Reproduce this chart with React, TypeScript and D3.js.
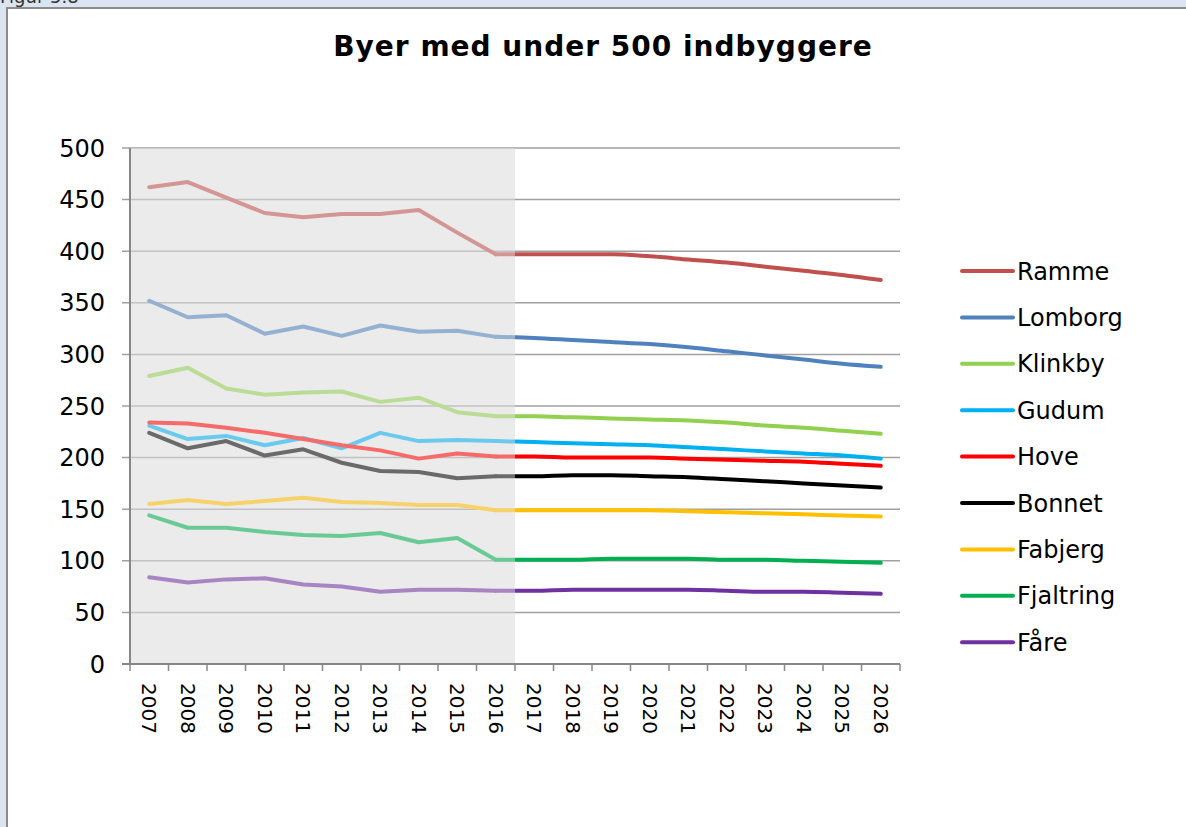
import React, { useRef, useEffect } from 'react';
import * as d3 from 'd3';

const years = [
  '2007', '2008', '2009', '2010', '2011', '2012', '2013', '2014', '2015', '2016',
  '2017', '2018', '2019', '2020', '2021', '2022', '2023', '2024', '2025', '2026',
];
const towns = ['Ramme', 'Lomborg', 'Klinkby', 'Gudum', 'Hove', 'Bonnet', 'Fabjerg', 'Fjaltring', 'Fåre'];
const colors = ['#c0504d', '#4f81bd', '#92d050', '#00b0f0', '#ff0000', '#000000', '#ffc000', '#00b050', '#7030a0'];

const ramme = [462, 467, 452, 437, 433, 436, 436, 440, 418, 397, 397, 397, 397, 395, 392, 389, 385, 381, 377, 372];
const lomborg = [352, 336, 338, 320, 327, 318, 328, 322, 323, 317, 316, 314, 312, 310, 307, 303, 299, 295, 291, 288];
const klinkby = [279, 287, 267, 261, 263, 264, 254, 258, 244, 240, 240, 239, 238, 237, 236, 234, 231, 229, 226, 223];
const gudum = [231, 218, 221, 212, 219, 209, 224, 216, 217, 216, 215, 214, 213, 212, 210, 208, 206, 204, 202, 199];
const hove = [234, 233, 229, 224, 218, 212, 207, 199, 204, 201, 201, 200, 200, 200, 199, 198, 197, 196, 194, 192];
const bonnet = [224, 209, 216, 202, 208, 195, 187, 186, 180, 182, 182, 183, 183, 182, 181, 179, 177, 175, 173, 171];
const fabjerg = [155, 159, 155, 158, 161, 157, 156, 154, 154, 149, 149, 149, 149, 149, 148, 147, 146, 145, 144, 143];
const fjaltring = [144, 132, 132, 128, 125, 124, 127, 118, 122, 101, 101, 101, 102, 102, 102, 101, 101, 100, 99, 98];
const faare = [84, 79, 82, 83, 77, 75, 70, 72, 72, 71, 71, 72, 72, 72, 72, 71, 70, 70, 69, 68];

const series = [ramme, lomborg, klinkby, gudum, hove, bonnet, fabjerg, fjaltring, faare];
const yTicks = [0, 50, 100, 150, 200, 250, 300, 350, 400, 450, 500];
const lastHistoric = '2016';

const App = () => {
  const ref = useRef(null);

  useEffect(() => {
    const W = 1186;
    const H = 827;
    const font = 'Verdana, "DejaVu Sans", sans-serif';

    d3.select(ref.current).selectAll('*').remove();
    const svg = d3
      .select(ref.current)
      .append('svg')
      .attr('width', W)
      .attr('height', H)
      .style('display', 'block');

    // window background and frame
    svg.append('rect').attr('width', W).attr('height', H).attr('fill', '#dbe5f1');
    svg.append('rect').attr('x', 7).attr('y', 8).attr('width', W).attr('height', H).attr('fill', '#fff');
    svg.append('path').attr('d', `M7,${H}V8H${W}`).attr('fill', 'none').attr('stroke', '#8c8c8c').attr('stroke-width', 2);
    svg.append('text').attr('x', 0).attr('y', 3).attr('font-family', font).attr('font-size', 18).attr('fill', '#333').text('Figur 5.8');

    svg
      .append('text')
      .attr('x', 603)
      .attr('y', 56)
      .attr('text-anchor', 'middle')
      .attr('font-family', font)
      .attr('font-weight', 'bold')
      .attr('font-size', 28)
      .attr('letter-spacing', 1)
      .text('Byer med under 500 indbyggere');

    const x = d3.scaleBand().domain(years).range([130, 900]);
    const y = d3.scaleLinear().domain([0, 500]).range([664, 148]);
    const cx = (yr) => x(yr) + x.bandwidth() / 2;
    const shadeW = x(lastHistoric) + x.bandwidth() - x(years[0]);

    // shaded historic period (background)
    svg
      .append('rect')
      .attr('x', x(years[0]))
      .attr('y', y(500))
      .attr('width', shadeW)
      .attr('height', y(0) - y(500))
      .attr('fill', '#ebebeb');

    // gridlines
    svg
      .append('g')
      .selectAll('line')
      .data(yTicks)
      .join('line')
      .attr('x1', 122)
      .attr('x2', 900)
      .attr('y1', (d) => y(d))
      .attr('y2', (d) => y(d))
      .attr('stroke', '#a0a0a0')
      .attr('stroke-width', 1.5);

    svg
      .append('g')
      .selectAll('text')
      .data(yTicks)
      .join('text')
      .attr('x', 105)
      .attr('y', (d) => y(d))
      .attr('dy', '0.36em')
      .attr('text-anchor', 'end')
      .attr('font-family', font)
      .attr('font-size', 24)
      .text((d) => d);

    const hi = years.indexOf(lastHistoric);
    const histLine = d3
      .line()
      .x((d, i) => cx(years[i]))
      .y((d) => y(d));
    const foreLine = d3
      .line()
      .x((d, i) => cx(years[i + hi]))
      .y((d) => y(d))
      .curve(d3.curveMonotoneX);

    const lines = svg.append('g');
    series.forEach((s, k) => {
      lines
        .append('path')
        .attr('d', histLine(s.slice(0, hi + 1)))
        .attr('fill', 'none')
        .attr('stroke', colors[k])
        .attr('stroke-width', 4)
        .attr('stroke-linecap', 'round')
        .attr('stroke-linejoin', 'round');
      lines
        .append('path')
        .attr('d', foreLine(s.slice(hi)))
        .attr('fill', 'none')
        .attr('stroke', colors[k])
        .attr('stroke-width', 4)
        .attr('stroke-linecap', 'round')
        .attr('stroke-linejoin', 'round');
    });

    // lighten lines inside the historic period
    svg
      .append('rect')
      .attr('x', x(years[0]))
      .attr('y', y(500))
      .attr('width', shadeW)
      .attr('height', y(0) - y(500))
      .attr('fill', '#ebebeb')
      .attr('fill-opacity', 0.45);

    // axes
    svg.append('line').attr('x1', 130).attr('x2', 130).attr('y1', y(500)).attr('y2', y(0)).attr('stroke', '#878787').attr('stroke-width', 2);
    svg.append('line').attr('x1', 122).attr('x2', 900).attr('y1', y(0)).attr('y2', y(0)).attr('stroke', '#878787').attr('stroke-width', 2);
    svg
      .append('g')
      .selectAll('line')
      .data([...years.map((d) => x(d)), 900])
      .join('line')
      .attr('x1', (d) => d)
      .attr('x2', (d) => d)
      .attr('y1', y(0))
      .attr('y2', y(0) + 7)
      .attr('stroke', '#878787')
      .attr('stroke-width', 1.5);

    svg
      .append('g')
      .selectAll('text')
      .data(years)
      .join('text')
      .attr('transform', (d) => `translate(${cx(d)},683) rotate(90)`)
      .attr('dy', '0.36em')
      .attr('font-family', font)
      .attr('font-size', 20)
      .text((d) => d);

    // legend
    const leg = svg
      .append('g')
      .selectAll('g')
      .data(towns)
      .join('g')
      .attr('transform', (d, i) => `translate(962,${271 + i * 46.4})`);
    leg
      .append('line')
      .attr('x1', 0)
      .attr('x2', 51)
      .attr('stroke', (d, i) => colors[i])
      .attr('stroke-width', 4)
      .attr('stroke-linecap', 'round');
    leg
      .append('text')
      .attr('x', 55)
      .attr('dy', '0.36em')
      .attr('font-family', font)
      .attr('font-size', 24)
      .text((d) => d);
  }, []);

  return <div ref={ref} style={{ position: 'absolute', left: 0, top: 0 }}></div>;
};

export default App;
